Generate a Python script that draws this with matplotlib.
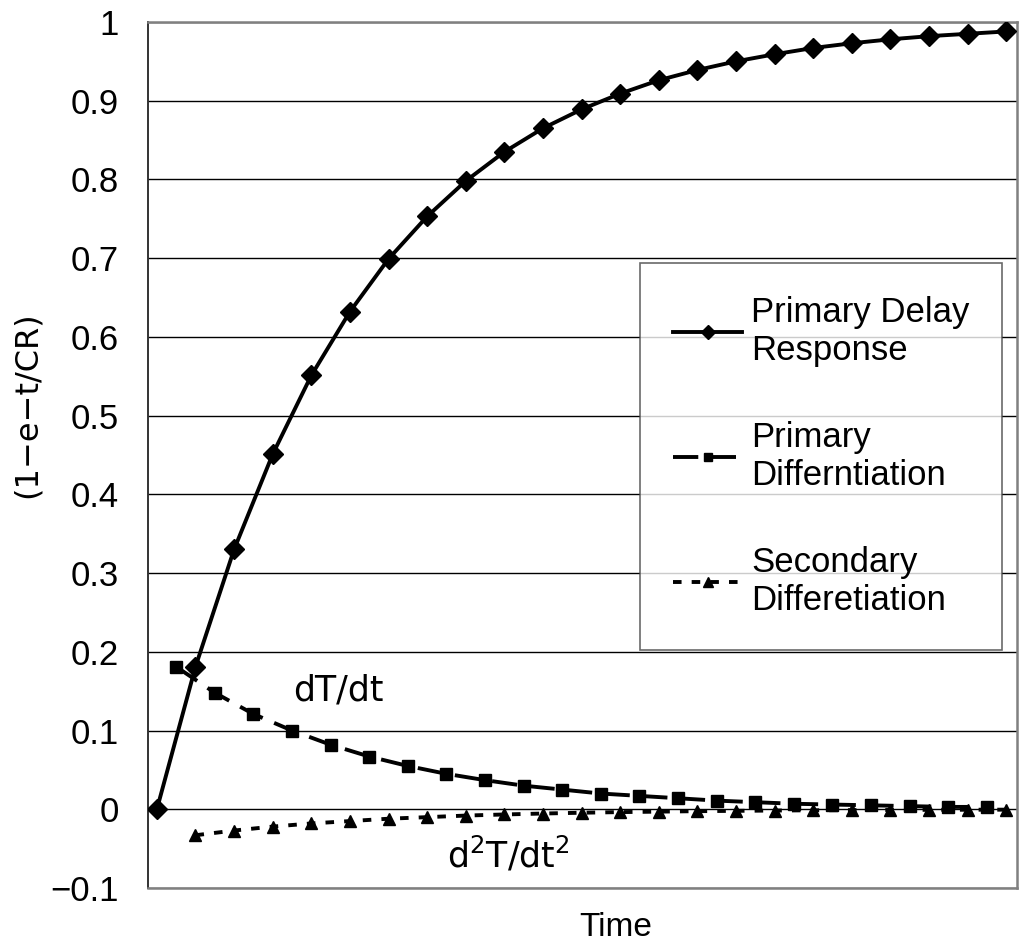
import matplotlib
matplotlib.use("Agg")
import matplotlib.pyplot as plt

plt.rcParams['font.family'] = ['Liberation Sans', 'DejaVu Sans']

# Data
t_primary = list(range(0, 23))
primary = [0.0, 0.181, 0.330, 0.451, 0.551, 0.632, 0.699, 0.753, 0.798, 0.835,
           0.865, 0.889, 0.909, 0.926, 0.939, 0.950, 0.959, 0.967, 0.973, 0.978,
           0.982, 0.985, 0.988]

t_first = [i + 0.5 for i in range(0, 22)]
first_diff = [0.181, 0.148, 0.121, 0.100, 0.082, 0.067, 0.055, 0.045, 0.037, 0.030,
              0.025, 0.020, 0.017, 0.014, 0.011, 0.009, 0.007, 0.006, 0.005, 0.004,
              0.003, 0.003]

t_second = list(range(1, 23))
second_diff = [-0.033, -0.027, -0.022, -0.018, -0.015, -0.012, -0.010, -0.008,
               -0.0066, -0.0054, -0.0044, -0.0036, -0.003, -0.0024, -0.002, -0.0016,
               -0.0013, -0.0011, -0.0009, -0.0007, -0.0006, -0.0005]

yticks = [-0.1, 0, 0.1, 0.2, 0.3, 0.4, 0.5, 0.6, 0.7, 0.8, 0.9, 1]
ytick_labels = ["\u22120.1", "0", "0.1", "0.2", "0.3", "0.4", "0.5", "0.6",
                "0.7", "0.8", "0.9", "1"]

series_labels = ["Primary Delay\nResponse", "Primary\nDifferntiation",
                 "Secondary\nDifferetiation"]

fig = plt.figure(figsize=(10.22, 9.48), dpi=100)
ax = fig.add_axes([148/1022, 1 - 888/948, 869/1022, 866/948])

ax.plot(t_primary, primary, color='black', lw=2.8, marker='D', markersize=10,
        label=series_labels[0], zorder=4)
ax.plot(t_first, first_diff, color='black', lw=2.8, marker='s', markersize=8.5,
        dashes=(6.5, 3.2), label=series_labels[1], zorder=3)
ax.plot(t_second, second_diff, color='black', lw=2.8, marker='^', markersize=9,
        dashes=(2.2, 2.6), label=series_labels[2], zorder=3)

ax.set_xlim(-0.23, 22.28)
ax.set_ylim(-0.1, 1.0)
ax.set_yticks(yticks)
ax.set_yticklabels(ytick_labels)
ax.set_xticks([])
ax.yaxis.grid(True, color='black', lw=1.0)
ax.set_axisbelow(True)
ax.tick_params(axis='y', labelsize=25, length=0, pad=21)

for name, s in ax.spines.items():
    s.set_color('#808080')
    s.set_linewidth(1.8)
ax.spines['left'].set_color('#333333')
ax.spines['left'].set_linewidth(1.4)

ax.set_ylabel("(1\u2212e\u2212t/CR)", fontsize=23, family='DejaVu Sans')
ax.yaxis.set_label_coords((43 - 148) / 869, (888 - 405) / 866)
ax.set_xlabel("Time", fontsize=24)
ax.xaxis.set_label_coords((616 - 148) / 869, (888 - 912) / 866)

ax.text(3.52, 0.1385, "dT/dt", fontsize=25, family='DejaVu Sans',
        ha='left', va='baseline')
ax.text(7.51, -0.074, "d$^2$T/dt$^2$", fontsize=25, family='DejaVu Sans',
        ha='left', va='baseline')

leg = ax.legend(loc='upper left', bbox_to_anchor=((640 - 148) / 869, (888 - 263) / 866),
                prop={'family': 'Liberation Sans', 'size': 25},
                frameon=True, fancybox=False, edgecolor='#444444',
                handlelength=2.0, labelspacing=1.55, borderpad=0.95,
                handletextpad=0.25, borderaxespad=0, markerscale=0.75)
leg.get_frame().set_linewidth(1.2)

fig.savefig("out.png", dpi=100)
